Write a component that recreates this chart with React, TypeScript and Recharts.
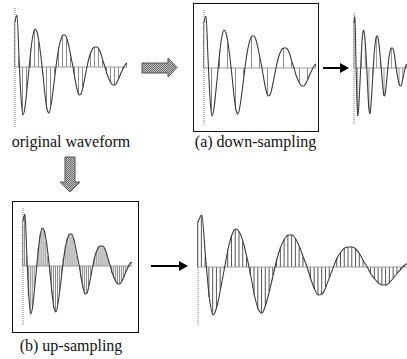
import React from "react";
import { ComposedChart, Line, Bar, XAxis, YAxis, ReferenceLine } from "recharts";

// sample positions (t) of the original waveform
const waveT = [
  0, 2, 4, 6, 8, 10, 12, 14, 16, 18, 20, 22, 24, 26, 28, 30, 32, 34, 36, 38,
  40, 42, 44, 46, 48, 50, 52, 54, 56, 58, 60, 62, 64, 66, 68, 70, 72, 74, 76,
  78, 80, 82, 84, 86, 88, 90, 92, 94, 96, 98, 100, 102, 104, 106, 108, 110, 112,
];
// amplitude of the waveform at each sample
const waveV = [
  45, 52, 10, -30, -48, -40, -22, -2, 18, 32, 38, 35, 25, 10, -8, -28, -42, -46,
  -38, -24, -8, 8, 20, 28, 32, 32, 28, 20, 10, 0, -12, -22, -28, -27, -20, -10,
  0, 9, 15, 19, 20, 20, 18, 13, 6, 0, -7, -12, -16, -18, -18, -15, -11, -6, -2,
  2, 4,
];
const labels = ["original waveform", "(a) down-sampling", "(b) up-sampling"];

type PanelProps = {
  x0: number; // pixel of t=0
  zeroY: number; // pixel of zero line
  scale: number; // px per t
  stemEvery: number; // keep every n-th sample as stem
  axisTop: number;
  axisBot: number;
  stemColor?: string;
};

const Panel = ({ x0, zeroY, scale, stemEvery, axisTop, axisBot, stemColor = "#8a8a8a" }: PanelProps) => {
  const data = waveT.map((t, i) => ({
    t,
    v: waveV[i],
    stem: i % stemEvery === 0 ? waveV[i] : null,
  }));
  const m = 2;
  const w = 112 * scale + 2 * m;
  return (
    <div style={{ position: "absolute", left: x0 - m, top: zeroY - 62 }}>
      <ComposedChart width={w} height={124} data={data} margin={{ top: 0, right: m, bottom: 0, left: m }}>
        <XAxis dataKey="t" type="number" domain={[0, 112]} hide />
        <YAxis type="number" domain={[-62, 62]} hide />
        <ReferenceLine y={0} stroke="#9a9a9a" strokeWidth={1} />
        <ReferenceLine
          segment={[{ x: 0, y: axisTop }, { x: 0, y: axisBot }]}
          stroke="#777"
          strokeDasharray="1 1"
          strokeWidth={1}
        />
        <Bar dataKey="stem" barSize={1} fill={stemColor} isAnimationActive={false} />
        <Line
          dataKey="v"
          type="monotone"
          stroke="#3a3a3a"
          strokeWidth={1.1}
          dot={false}
          isAnimationActive={false}
        />
      </ComposedChart>
    </div>
  );
};

const textStyle: React.CSSProperties = {
  position: "absolute",
  fontFamily: "'Times New Roman', 'Liberation Serif', Times, serif",
  fontSize: 16,
  color: "#111",
  textAlign: "center",
  whiteSpace: "nowrap",
};

export default function App() {
  return (
    <div
      style={{
        position: "absolute",
        left: 0,
        top: 0,
        width: 407,
        height: 359,
        overflow: "hidden",
        background: "#fff",
      }}
    >
      {/* boxes */}
      <div style={{ position: "absolute", left: 193, top: 3, width: 124, height: 127, border: "1.5px solid #111" }} />
      <div style={{ position: "absolute", left: 12, top: 201, width: 125, height: 130, border: "1.5px solid #111" }} />

      {/* original */}
      <Panel x0={15} zeroY={67} scale={1} stemEvery={2} axisTop={59} axisBot={-61} />
      {/* (a) down-sampling box */}
      <Panel x0={204} zeroY={68} scale={1} stemEvery={4} axisTop={58} axisBot={-57} />
      {/* down-sampled result */}
      <Panel x0={354} zeroY={68} scale={0.47} stemEvery={4} axisTop={55} axisBot={-57} />
      {/* (b) up-sampling box */}
      <Panel x0={23} zeroY={266} scale={0.97} stemEvery={1} axisTop={58} axisBot={-59} />
      {/* up-sampled result */}
      <Panel x0={198} zeroY={267} scale={1.88} stemEvery={1} axisTop={47} axisBot={-58} stemColor="#555" />

      {/* labels */}
      <div style={{ ...textStyle, left: 0, width: 142, top: 133 }}>{labels[0]}</div>
      <div style={{ ...textStyle, left: 183, width: 145, top: 133 }}>{labels[1]}</div>
      <div style={{ ...textStyle, left: 0, width: 142, top: 337 }}>{labels[2]}</div>

      {/* arrows */}
      <svg width={407} height={359} style={{ position: "absolute", left: 0, top: 0, pointerEvents: "none" }}>
        <defs>
          <pattern id="hatch" width={2} height={2} patternUnits="userSpaceOnUse">
            <rect width={2} height={2} fill="#c4c4c4" />
            <rect width={1} height={1} fill="#6a6a6a" />
            <rect x={1} y={1} width={1} height={1} fill="#6a6a6a" />
          </pattern>
        </defs>
        <path d="M142,63 L168,63 L168,58 L177,67.5 L168,77 L168,73 L142,73 Z" fill="url(#hatch)" stroke="#555" strokeWidth={1} />
        <path d="M65,157 L75,157 L75,182 L80,182 L70,192 L60,182 L65,182 Z" fill="url(#hatch)" stroke="#555" strokeWidth={1} />
        <line x1={323} y1={68} x2={341} y2={68} stroke="#000" strokeWidth={2} />
        <polygon points="340,63 349,68 340,73" fill="#000" />
        <line x1={151} y1={266} x2={180} y2={266} stroke="#000" strokeWidth={2} />
        <polygon points="179,261 188,266 179,271" fill="#000" />
      </svg>
    </div>
  );
}
